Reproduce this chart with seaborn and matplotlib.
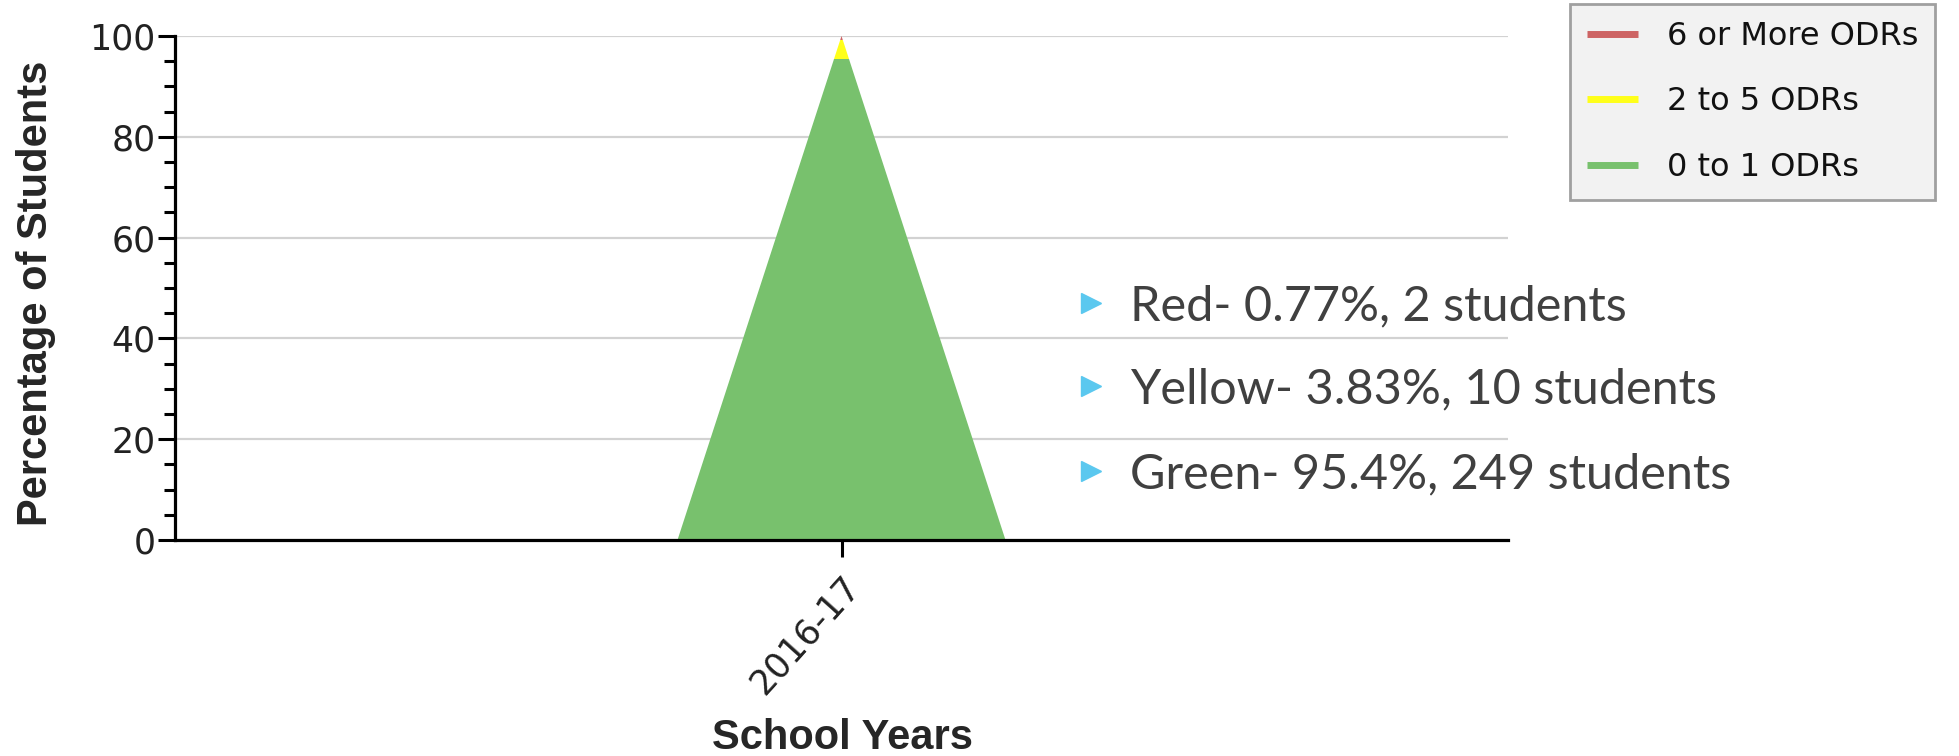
import matplotlib
matplotlib.use("Agg")
import matplotlib.pyplot as plt
from matplotlib.lines import Line2D
from matplotlib.patches import Polygon
from matplotlib.ticker import MultipleLocator
import seaborn as sns

# ---- data ----
school_years = ["2016-17"]
series_names = ["0 to 1 ODRs", "2 to 5 ODRs", "6 or More ODRs"]
series_colors = ["#78c16d", "#ffff1a", "#cd6464"]
green_pct = [95.4]
yellow_pct = [3.83]
red_pct = [0.77]

summary_names = ["Red", "Yellow", "Green"]
summary_pcts = [red_pct[0], yellow_pct[0], green_pct[0]]
summary_counts = [2, 10, 249]

# ---- style ----
sns.set_theme(style="white")
plt.rcParams["font.family"] = ["DejaVu Sans"]

W, H = 1959, 756
fig = plt.figure(figsize=(W / 100, H / 100), dpi=100)
ax = fig.add_axes([175 / W, 1 - 540 / H, (1508 - 175) / W, (540 - 36) / H])

# each school year is a peak whose height is the stacked total; the stacked
# bands are filled inside that peak
half = 0.5
layers = [green_pct, yellow_pct, red_pct]
for i in range(len(school_years)):
    total = sum(layer[i] for layer in layers)
    peak = Polygon([(i - half, 0), (i, total), (i + half, 0)], closed=True,
                   transform=ax.transData, facecolor="none", edgecolor="none")
    ax.add_patch(peak)
    bottom = 0.0
    for layer, color in zip(layers, series_colors):
        bars = ax.bar(i, layer[i], width=2 * half, bottom=bottom, color=color,
                      linewidth=0, zorder=2)
        for b in bars:
            b.set_clip_path(peak)
        bottom += layer[i]

ax.set_xlim(-2.032, len(school_years) - 1 + 2.032)
ax.set_ylim(0, 100)

# grid + axes
ax.set_axisbelow(True)
ax.yaxis.set_major_locator(MultipleLocator(20))
ax.yaxis.set_minor_locator(MultipleLocator(5))
ax.grid(axis="y", which="major", color="#d2d2d2", linewidth=1.6)
ax.grid(axis="x", visible=False)
sns.despine(ax=ax, top=True, right=True)
for side in ("left", "bottom"):
    ax.spines[side].set_color("black")
    ax.spines[side].set_linewidth(2.3)

ax.set_xticks(range(len(school_years)))
ax.set_xticklabels(school_years, rotation=48, ha="right",
                   rotation_mode="anchor", fontsize=25, color="#222222")
ax.tick_params(axis="x", which="major", direction="out", length=12, width=2.2,
               color="black", pad=9, bottom=True)
ax.tick_params(axis="y", which="major", direction="out", length=12, width=2.2,
               color="black", pad=2, labelsize=25, labelcolor="#222222", left=True)
ax.tick_params(axis="y", which="minor", direction="out", length=8, width=2.2,
               color="black", left=True)

ax.set_ylabel("Percentage of Students", family="Liberation Sans",
              fontweight="bold", fontsize=30, va="center")
ax.yaxis.set_label_coords(-0.104, 0.49)
ax.set_xlabel("School Years", family="Liberation Sans", fontweight="bold",
              fontsize=30, va="center")
ax.xaxis.set_label_coords(0.501, -0.393)

# legend (top to bottom: red, yellow, green)
handles = [Line2D([], [], color=c, linewidth=5, solid_capstyle="butt")
           for c in reversed(series_colors)]
leg = fig.legend(handles, list(reversed(series_names)), loc="upper left",
                 bbox_to_anchor=(1570 / W, 1 - 4 / H), borderaxespad=0,
                 fontsize=23, frameon=True, fancybox=False, framealpha=1,
                 facecolor="#f2f2f2", edgecolor="#a0a0a0", borderpad=0.53,
                 labelspacing=1.08, handlelength=1.6, handletextpad=0.9)
leg.get_frame().set_linewidth(2.0)
for t in leg.get_texts():
    t.set_color("#111111")

# summary bullets
baselines = [320, 403, 488]
for name, pct, cnt, yb in zip(summary_names, summary_pcts, summary_counts, baselines):
    fig.text(1130 / W, 1 - yb / H, f"{name}- {pct:g}%, {cnt} students",
             family="Lato", fontsize=35, color="#404040", va="baseline", ha="left")
    fig.add_artist(Line2D([1091 / W], [1 - (yb - 17) / H], marker=">",
                          markersize=15, color="#5bc8ef", linestyle="none",
                          transform=fig.transFigure))

fig.savefig("out.png", dpi=100, facecolor="white")
